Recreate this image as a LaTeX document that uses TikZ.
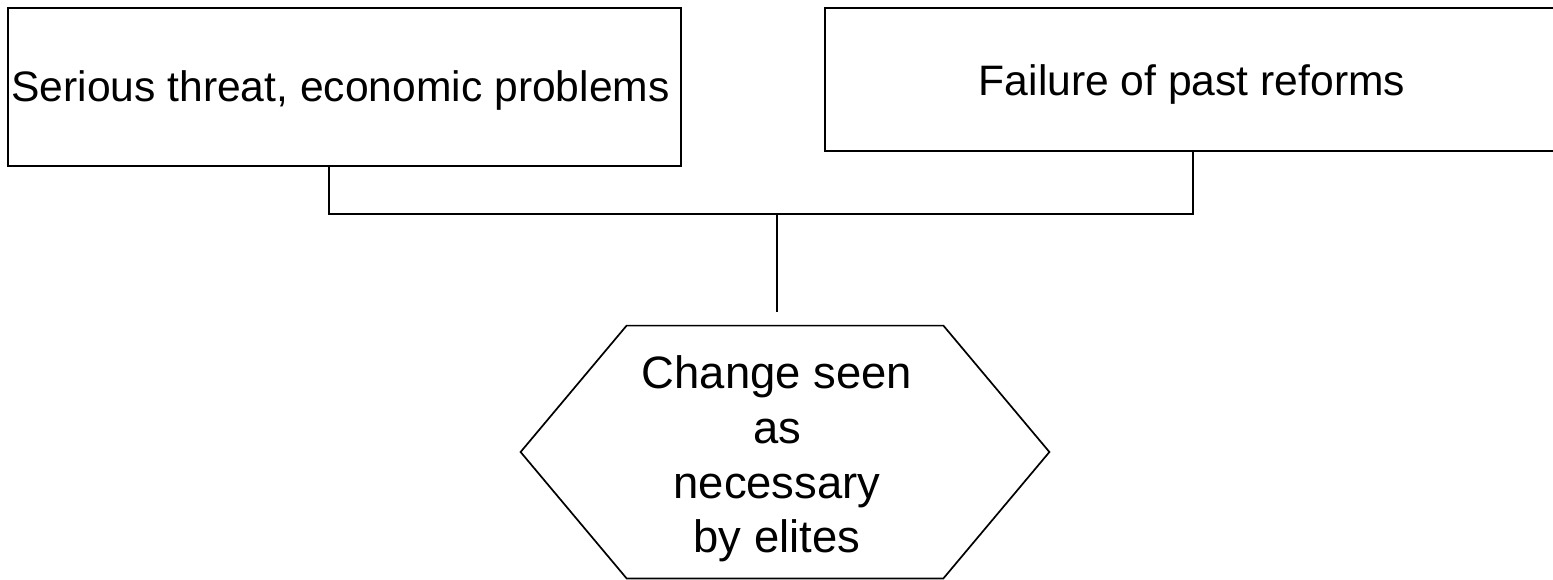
\documentclass[tikz,border=0pt]{standalone}
\usepackage{fontspec}
\setmainfont{Liberation Sans}
\usetikzlibrary{calc}
\begin{document}
\begin{tikzpicture}[x=0.5pt,y=-0.5pt,
  causebox/.style={draw=black, line width=1.3pt, rectangle, inner sep=0pt},
  causetext/.style={inner sep=0pt, font=\fontsize{21.3}{25}\selectfont},
  link/.style={draw=black, line width=1.3pt},
  hexline/.style={draw=black, line width=0.85pt, line join=miter},
  hexlabel/.style={align=center, inner sep=0pt,
    font=\fontsize{22.7}{27.3}\selectfont}]
  \useasboundingbox (0,0) rectangle (1553,579);
  \clip (0,0) rectangle (1553,579);

  % two cause boxes
  \node[causebox, minimum width=336.5pt, minimum height=79pt] (threat) at (344.5,87) {};
  \node[causetext] (threattext) at (340.5,90) {Serious threat, economic problems};
  \node[causebox, minimum width=368pt, minimum height=71.5pt] (reforms) at (1193,79.5) {};
  \node[causetext] (reformstext) at (1192,84) {Failure of past reforms};

  % joining bar
  \coordinate (jL) at (329,214);
  \coordinate (jR) at (1193,214);
  \coordinate (jM) at (777,214);
  \coordinate (drop) at (777,312);
  \draw[link] (threat.south -| jL) -- (jL) -- (jR) -- (reforms.south -| jR);
  \draw[link] (jM) -- (drop);

  % outcome hexagon
  \node[minimum width=264pt, minimum height=126pt, inner sep=0pt] (hex) at (785,452) {};
  \draw[hexline] (hex.west) -- ($(hex.north west)+(106,0)$) -- ($(hex.north east)+(-106,0)$)
    -- (hex.east) -- ($(hex.south east)+(-106,0)$) -- ($(hex.south west)+(106,0)$) -- cycle;
  \node[hexlabel] (hexlabel) at (777,459) {Change seen\\as\\necessary\\by elites};
\end{tikzpicture}
\end{document}
